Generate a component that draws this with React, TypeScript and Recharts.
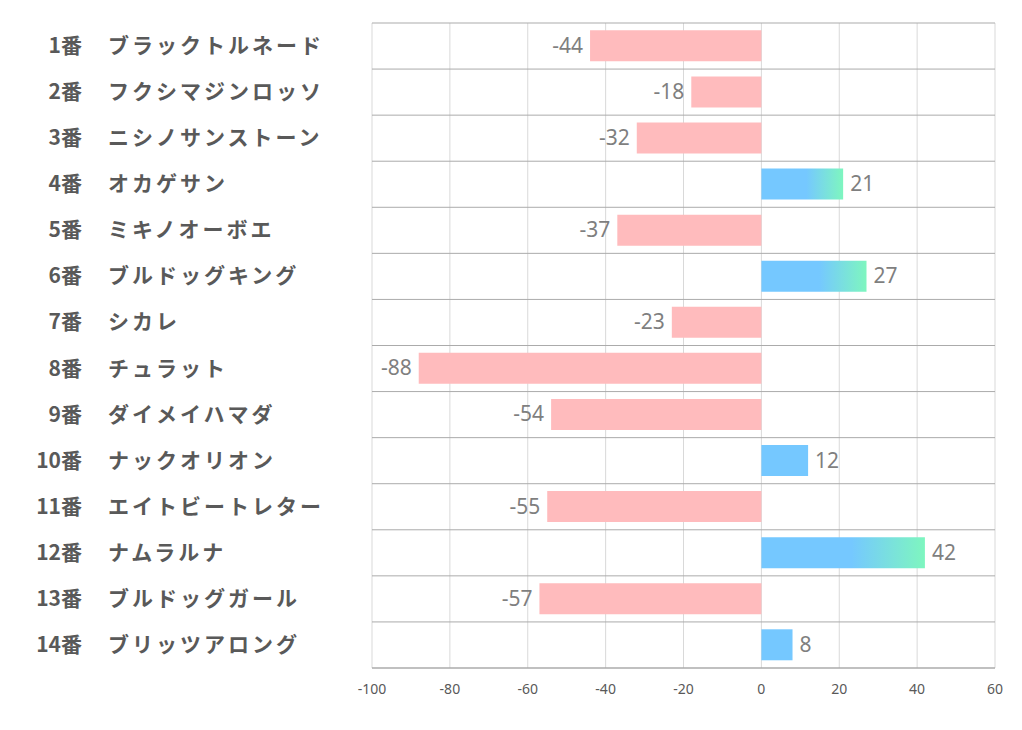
import { BarChart, Bar, XAxis, YAxis, CartesianGrid, Cell, LabelList } from "recharts"

const numbers = ["1番", "2番", "3番", "4番", "5番", "6番", "7番", "8番", "9番", "10番", "11番", "12番", "13番", "14番"]
const horses = [
  "ブラックトルネード",
  "フクシマジンロッソ",
  "ニシノサンストーン",
  "オカゲサン",
  "ミキノオーボエ",
  "ブルドッグキング",
  "シカレ",
  "チュラット",
  "ダイメイハマダ",
  "ナックオリオン",
  "エイトビートレター",
  "ナムラルナ",
  "ブルドッグガール",
  "ブリッツアロング",
]
const scores = [-44, -18, -32, 21, -37, 27, -23, -88, -54, 12, -55, 42, -57, 8]
const xTicks = [-100, -80, -60, -40, -20, 0, 20, 40, 60]

const PINK = "#FFBBBD"
const BLUE = "#75C8FF"
const GREEN = "#7EF6BF"

const chartData = horses.map((name, i) => ({
  key: `${numbers[i]}|${name}`,
  num: numbers[i],
  name,
  value: scores[i],
}))

const HorseTick = (props: any) => {
  const { y, payload } = props
  const [num, name] = String(payload.value).split("|")
  const style = {
    fontFamily: "'Noto Sans CJK JP', sans-serif",
    fontWeight: 700,
    fontSize: 21,
    fill: "#595959",
  }
  return (
    <g>
      <text x={82} y={y} dy={7} textAnchor="end" style={style}>
        {num}
      </text>
      <text x={108} y={y} dy={7} textAnchor="start" style={{ ...style, letterSpacing: 3 }}>
        {name}
      </text>
    </g>
  )
}

const ValueLabel = (props: any) => {
  const { x, y, width, height, value } = props
  const left = Math.min(x, x + width)
  const right = Math.max(x, x + width)
  const neg = value < 0
  return (
    <text
      x={neg ? left - 7 : right + 7}
      y={y + height / 2}
      dy={7}
      textAnchor={neg ? "end" : "start"}
      style={{ fontFamily: "'Noto Sans', sans-serif", fontSize: 21, fill: "#7F7F7F" }}
    >
      {value}
    </text>
  )
}

export default function App() {
  return (
    <div style={{ position: "absolute", left: 0, top: 0, background: "#fff" }}>
      <BarChart
        width={1022}
        height={730}
        data={chartData}
        layout="vertical"
        margin={{ top: 23, right: 27, left: 0, bottom: 22 }}
        barCategoryGap="16%"
      >
        <defs>
          <linearGradient id="posGrad" x1="0" y1="0" x2="1" y2="0">
            <stop offset="0.55" stopColor={BLUE} />
            <stop offset="1" stopColor={GREEN} />
          </linearGradient>
        </defs>
        <CartesianGrid horizontal={false} stroke="#D9D9D9" />
        <CartesianGrid
          vertical={false}
          stroke="#ABABAB"
          horizontalCoordinatesGenerator={({ offset }: any) =>
            Array.from({ length: horses.length + 1 }, (_, i) => offset.top + (i * offset.height) / horses.length)
          }
        />
        <XAxis
          type="number"
          domain={[-100, 60]}
          ticks={xTicks}
          tickLine={false}
          axisLine={{ stroke: "#ABABAB" }}
          tickMargin={10}
          height={40}
          tick={{ fontFamily: "'Noto Sans', sans-serif", fontSize: 14, fill: "#595959" }}
          interval={0}
        />
        <YAxis
          type="category"
          dataKey="key"
          width={372}
          axisLine={false}
          tickLine={false}
          tick={<HorseTick />}
          interval={0}
        />
        <Bar dataKey="value" isAnimationActive={false}>
          {chartData.map((d, i) => (
            <Cell key={`cell-${i}`} fill={d.value < 0 ? PINK : d.value > 15 ? "url(#posGrad)" : BLUE} />
          ))}
          <LabelList dataKey="value" content={<ValueLabel />} />
        </Bar>
      </BarChart>
    </div>
  )
}
